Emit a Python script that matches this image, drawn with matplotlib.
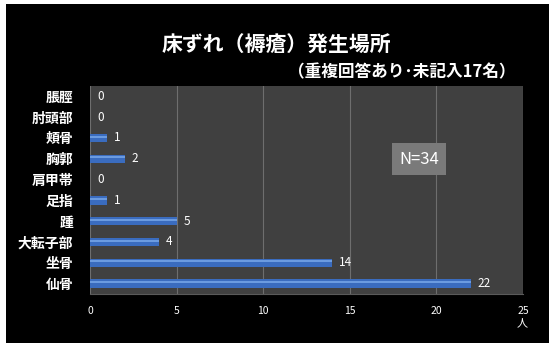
import matplotlib
matplotlib.use('Agg')
import matplotlib.pyplot as plt
from matplotlib.patches import Rectangle

plt.rcParams['font.family'] = ['Noto Sans CJK JP', 'DejaVu Sans']

# bottom to top
sites = ['仙骨', '坐骨', '大転子部', '踵', '足指', '肩甲帯', '胸郭', '頬骨', '肘頭部', '脹脛']
counts = [22, 14, 4, 5, 1, 0, 2, 1, 0, 0]
xticks = [0, 5, 10, 15, 20, 25]

W, H = 549, 343
fig = plt.figure(figsize=(W / 100, H / 100), dpi=100, facecolor='black')
# thin white margin on top and left
fig.patches.append(Rectangle((0, 1 - 4 / H), 1, 4 / H, transform=fig.transFigure,
                             facecolor='white', edgecolor='none'))
fig.patches.append(Rectangle((0, 0), 6 / W, 1, transform=fig.transFigure,
                             facecolor='white', edgecolor='none'))

ax = fig.add_axes([90 / W, 1 - 294 / H, (523 - 90) / W, (294 - 86) / H])
ax.set_facecolor('#404040')

y = list(range(len(sites)))
# bar body plus a lighter stripe to hint at the gradient
ax.barh(y, counts, height=0.4, color='#3a6cbf', linewidth=0, zorder=3)
ax.barh([i + 0.07 for i in y], counts, height=0.1, color='#6b9be0', linewidth=0, zorder=3)
for i, v in enumerate(counts):
    ax.text(v + 0.4, i, str(v), color='white', fontsize=8.5, va='center', ha='left', zorder=4)

ax.set_xlim(0, 25)
ax.set_ylim(-0.5, len(sites) - 0.5)
ax.set_xticks(xticks)
ax.set_xticklabels([str(t) for t in xticks], color='white', fontsize=7.5)
ax.set_yticks(y)
ax.set_yticklabels(sites, color='white', fontsize=10, fontweight='bold')
ax.tick_params(axis='both', length=0)
ax.tick_params(axis='x', pad=9)
ax.tick_params(axis='y', pad=12)
ax.grid(axis='x', color='#6e6e6e', linewidth=0.8, zorder=1)
for s in ['top', 'right', 'left']:
    ax.spines[s].set_visible(False)
ax.spines['bottom'].set_color('#5a5a5a')

fig.text(276 / W, 1 - 45 / H, '床ずれ（褥瘡）発生場所', color='white', fontsize=15,
         fontweight='bold', ha='center', va='center')
fig.text(402 / W, 1 - 72 / H, '（重複回答あり･未記入17名）', color='white', fontsize=12,
         fontweight='bold', ha='center', va='center')
fig.text(522 / W, 1 - 323 / H, '人', color='white', fontsize=8, ha='center', va='center')

ax.text(419 / W, 1 - 159 / H, 'N=34', transform=fig.transFigure, color='white',
        fontsize=12, ha='center', va='center', zorder=5,
        bbox=dict(boxstyle='square,pad=0.45', facecolor='#7a7a7a', edgecolor='none'))

fig.savefig('out.png', dpi=100, facecolor=fig.get_facecolor())
